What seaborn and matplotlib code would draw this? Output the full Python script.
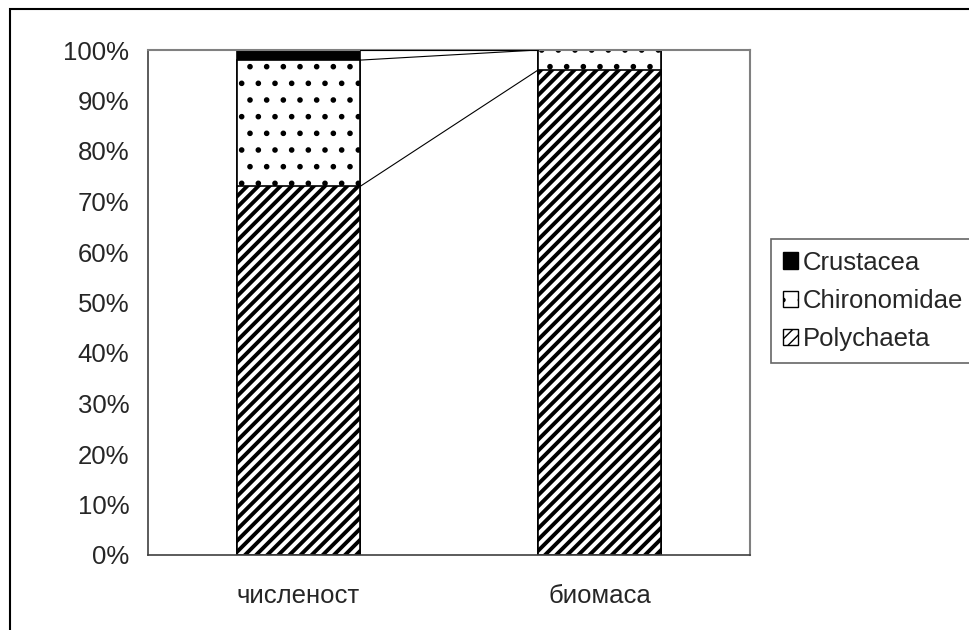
import numpy as np
import pandas as pd
import matplotlib
matplotlib.use('Agg')
import matplotlib.pyplot as plt
from matplotlib.patches import Patch, Rectangle
from matplotlib.ticker import FuncFormatter
import seaborn as sns

# ==================== data ====================
categories = ['численост', 'биомаса']
polychaeta = [73, 96]
chironomidae = [25, 4]
crustacea = [2, 0]

series_names = ['Polychaeta', 'Chironomidae', 'Crustacea']
series_values = [polychaeta, chironomidae, crustacea]

sns.set_style('white')
plt.rcParams['font.family'] = ['Liberation Sans', 'DejaVu Sans']
plt.rcParams['hatch.color'] = 'black'

# cumulative tops of each layer
cum = np.cumsum(np.array(series_values), axis=0)

fig = plt.figure(figsize=(9.69, 6.30), dpi=100)
ax = fig.add_axes([148 / 969, 1 - 555 / 630, (750 - 148) / 969, (555 - 50) / 630])

styles = {
    'Crustacea': dict(color='black', hatch=None, hlw=1.0),
    'Chironomidae': dict(color='white', hatch='.', hlw=1.6),
    'Polychaeta': dict(color='white', hatch='///', hlw=2.8),
}

# draw from the top layer down so every lower layer covers the one above
for i in range(len(series_names) - 1, -1, -1):
    name = series_names[i]
    st = styles[name]
    df = pd.DataFrame({'cat': categories, 'val': cum[i]})
    with plt.rc_context({'hatch.linewidth': st['hlw']}):
        sns.barplot(data=df, x='cat', y='val', color=st['color'], saturation=1,
                    edgecolor='black', linewidth=1.2, hatch=st['hatch'],
                    width=0.41, ax=ax)

# series lines between the two bars
bars = ax.patches[:len(categories)]
x_left = bars[0].get_x() + bars[0].get_width()
x_right = bars[1].get_x()
for i in range(len(series_names)):
    ax.plot([x_left, x_right], [cum[i][0], cum[i][1]], color='black', lw=0.8, zorder=3)

ax.set_ylim(0, 100)
ax.set_xlim(-0.5, 1.5)
ax.set_yticks(np.arange(0, 101, 10))
ax.yaxis.set_major_formatter(FuncFormatter(lambda v, p: f'{v:.0f}%'))
ax.set_xlabel('')
ax.set_ylabel('')
ax.set_xticks([0, 1])
ax.set_xticklabels(categories)
ax.set_xticks([-0.5, 0.5, 1.5], minor=True)
ax.tick_params(axis='x', which='major', length=0, pad=21, labelsize=18.5)
ax.tick_params(axis='x', which='minor', length=4.5, width=1, color='#404040', direction='out')
ax.tick_params(axis='y', length=4.5, width=1, color='#404040', direction='out', labelsize=18.5, pad=9)

for s in ['left', 'bottom']:
    ax.spines[s].set_color('#404040')
    ax.spines[s].set_linewidth(1.2)
for s in ['top', 'right']:
    ax.spines[s].set_visible(True)
    ax.spines[s].set_color('#808080')
    ax.spines[s].set_linewidth(1.5)

# legend
handles = []
for name in ['Crustacea', 'Chironomidae', 'Polychaeta']:
    st = styles[name]
    handles.append(Patch(facecolor=st['color'], edgecolor='black', hatch=st['hatch'], label=name))
leg = fig.legend(handles=handles, loc='upper left', bbox_to_anchor=(771 / 969, 1 - 239 / 630),
                 fontsize=18.5, frameon=True, fancybox=False, handlelength=0.6, handleheight=0.6,
                 handletextpad=0.2, labelspacing=0.56, borderpad=0.45, borderaxespad=0)
leg.get_frame().set_edgecolor('#404040')
leg.get_frame().set_linewidth(1.2)

# outer chart frame
fig.patches.append(Rectangle((9.5 / 969, -0.1), 1.2, 1 - 9.5 / 630 + 0.1, transform=fig.transFigure,
                             fill=False, edgecolor='black', linewidth=1.5))

plt.savefig('out.png', dpi=100)
